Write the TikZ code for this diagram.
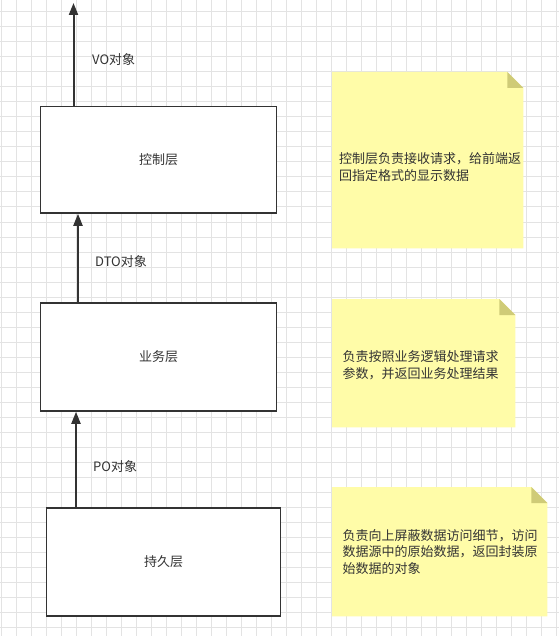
\documentclass[tikz,border=0pt]{standalone}
\usepackage{fontspec}
\setmainfont{Noto Sans CJK SC}
\usetikzlibrary{arrows.meta}
\definecolor{ink}{HTML}{333333}
\definecolor{gridc}{HTML}{E3E3E3}
\definecolor{notey}{HTML}{FFFCA8}
\definecolor{foldy}{HTML}{CFCB77}
\tikzset{
  layer/.style={draw=ink, line width=1.5pt, fill=white, text=ink, inner sep=0pt,
    font=\fontsize{13}{16}\selectfont},
  flow/.style={draw=ink, line width=2pt, -{Triangle[length=12pt,width=9pt]}},
  flowlabel/.style={text=ink, inner sep=0pt, anchor=west, font=\fontsize{13}{16}\selectfont},
  notearea/.style={inner sep=0pt, anchor=north west},
  notetext/.style={text=ink, inner sep=0pt, anchor=west, align=left,
    font=\fontsize{13}{16.5}\selectfont},
}
% sticky note with a folded top-right corner
\newcommand{\stickynote}[1]{%
  \fill[notey] (#1.north west) -- ([xshift=-16pt]#1.north east) -- ([yshift=-16pt]#1.north east)
    -- (#1.south east) -- (#1.south west) -- cycle;
  \fill[foldy] ([xshift=-16pt]#1.north east) -- ([xshift=-16pt,yshift=-16pt]#1.north east)
    -- ([yshift=-16pt]#1.north east) -- cycle;}
\begin{document}
\begin{tikzpicture}[x=1pt, y=-1pt]
\useasboundingbox (0,0) rectangle (559,636);
\fill[white] (0,0) rectangle (559,636);
% background grid
\foreach \gx in {1.5,16.5,...,559} \draw[gridc, line width=1pt] (\gx,0) -- (\gx,636);
\foreach \gy in {12,27,...,636} \draw[gridc, line width=1pt] (0,\gy) -- (559,\gy);

% layers
\node[layer, minimum width=236, minimum height=106.5] (ctrl) at (158.5,159.75) {控制层};
\node[layer, minimum width=236, minimum height=108] (svc) at (158.5,357) {业务层};
\node[layer, minimum width=234, minimum height=108] (dao) at (163.5,562) {持久层};

% data flowing upwards
\coordinate (out) at (73.5,3);
\coordinate (xa) at (78,0);
\coordinate (xb) at (76,0);
\draw[flow] (ctrl.north -| out) -- (out);
\draw[flow] (svc.north -| xa) -- (ctrl.south -| xa);
\draw[flow] (dao.north -| xb) -- (svc.south -| xb);
\node[flowlabel] (vo) at (92,60) {VO对象};
\node[flowlabel] (dto) at (95,262) {DTO对象};
\node[flowlabel] (po) at (93,467) {PO对象};

% notes
\node[notearea, minimum width=191, minimum height=176] (n1) at (332,72) {};
\stickynote{n1}
\node[notetext] (t1) at (339,167) {控制层负责接收请求，给前端返\\回指定格式的显示数据};

\node[notearea, minimum width=183, minimum height=128] (n2) at (332,299) {};
\stickynote{n2}
\node[notetext] (t2) at (342.5,365) {负责按照业务逻辑处理请求\\参数，并返回业务处理结果};

\node[notearea, minimum width=215, minimum height=129] (n3) at (332,487) {};
\stickynote{n3}
\node[notetext] (t3) at (342.5,552) {负责向上屏蔽数据访问细节，访问\\数据源中的原始数据，返回封装原\\始数据的对象};
\end{tikzpicture}
\end{document}
